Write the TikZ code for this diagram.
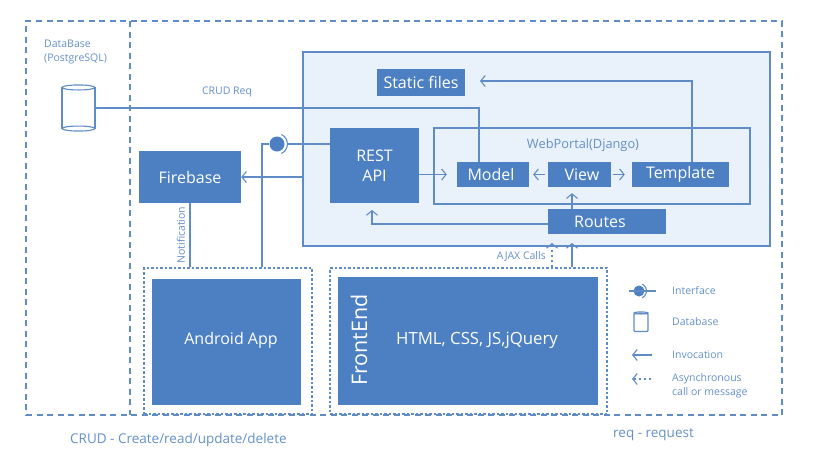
\documentclass[tikz,border=0pt]{standalone}
\usepackage{fontspec}
\setmainfont{Open Sans}
\usetikzlibrary{arrows.meta,shapes.geometric}

\definecolor{boxblue}{HTML}{4C80C2}
\definecolor{lineblue}{HTML}{5F8CC6}
\definecolor{textblue}{HTML}{6490C8}
\definecolor{paleblue}{HTML}{E9F1FB}

\tikzset{
	bluebox/.style={fill=boxblue,text=white,inner sep=0pt,align=center,font=\fontsize{16}{20}\selectfont},
	conn/.style={draw=lineblue,line width=1.1pt},
	invoke/.style={conn,-{Straight Barb[length=4.5pt,width=11pt,line width=1.1pt]}},
	asyncarrow/.style={invoke,dash pattern=on 2.5pt off 2.5pt},
	outerline/.style={draw=lineblue,line width=1.1pt,dash pattern=on 6pt off 4.5pt},
	dotbox/.style={draw=lineblue,line width=1.1pt,dash pattern=on 2.5pt off 2pt,inner sep=0pt},
	note/.style={text=textblue,inner sep=0pt,align=left,font=\fontsize{10.5}{13.5}\selectfont},
	bottomnote/.style={note,font=\fontsize{13.5}{15}\selectfont}
}

\begin{document}
\begin{tikzpicture}[x=1pt,y=-1pt]
	\useasboundingbox (0,0) rectangle (819,467);

	% Outer frame and divider
	\node[outerline,inner sep=0pt,minimum width=756pt,minimum height=394pt] (frame) at (404,218) {};
	\coordinate (divtop) at (130,21);
	\coordinate (divbottom) at (130,415);
	\draw[outerline] (divtop) -- (divbottom);

	% Server side
	\node[fill=paleblue,draw=lineblue,line width=1.1pt,minimum width=467pt,minimum height=194pt] (server) at (536.5,149) {};
	\node[draw=lineblue,line width=1.1pt,minimum width=316pt,minimum height=76pt] (portal) at (592,166) {};
	\node[note,font=\fontsize{12.8}{15}\selectfont] (portaltext) at (583,145) {WebPortal(Django)};

	\node[bluebox,minimum width=88pt,minimum height=27pt] (static) at (421,82.5) {Static files};
	\node[bluebox,minimum width=89pt,minimum height=75pt] (rest) at (374.5,165.5) {REST\\API\hspace{2pt}};
	\node[bluebox,minimum width=72pt,minimum height=25pt] (model) at (493,174.5) {Model\hspace{4pt}};
	\node[bluebox,minimum width=63pt,minimum height=25pt] (view) at (579.5,174.5) {\hspace{5pt}View};
	\node[bluebox,minimum width=97pt,minimum height=25pt] (template) at (680.5,174.5) {Template};
	\node[bluebox,minimum width=118pt,minimum height=25pt] (routes) at (607,221.5) {Routes\hspace{14pt}};
	\node[bluebox,minimum width=102pt,minimum height=52pt] (firebase) at (190,177) {Firebase};

	% Clients
	\node[dotbox,minimum width=168pt,minimum height=146pt] (androidgroup) at (228,341) {};
	\node[bluebox,minimum width=149pt,minimum height=126pt] (android) at (226.5,342) {\hspace{9pt}\raisebox{7pt}{Android App}};
	\node[dotbox,minimum width=277pt,minimum height=146pt] (frontgroup) at (468.5,341) {};
	\node[bluebox,font=\fontsize{16.8}{20}\selectfont,minimum width=260pt,minimum height=128pt] (front) at (468,341) {\hspace{18pt}\raisebox{5pt}{HTML, CSS, JS,jQuery}};
	\node[text=white,rotate=90,inner sep=0pt,font=\fontsize{21.5}{24}\selectfont] (fronttitle) at (359,340) {FrontEnd};

	% Database
	\node[draw=lineblue,fill=white,line width=1.1pt,minimum width=33pt,minimum height=40pt] (dbase) at (78.5,108) {};
	\draw[conn,fill=white] (dbase.north) ellipse[x radius=16.5pt,y radius=2.5pt];
	\draw[conn,fill=white] (dbase.south) ellipse[x radius=16.5pt,y radius=2.5pt];
	\node[note,anchor=north west] (dbasetext) at (44,40) {DataBase\\(PostgreSQL)};

	% Connectors
	\coordinate (modelup) at (479,162);
	\draw[conn] (dbase) -- (dbase -| modelup) -- (modelup);
	\node[note] (crudtext) at (227,92) {CRUD Req};

	\node[circle,fill=boxblue,minimum size=15pt,inner sep=0pt] (iface) at (277,144) {};
	\draw[conn] (iface.center) ++(-65:10.5pt) arc[start angle=-65,end angle=65,radius=10.5pt];
	\coordinate (ifacepost) at (262,144);
	\coordinate (ifaceplug) at (287.5,144);
	\draw[conn] (ifacepost |- androidgroup.north) -- (ifacepost) -- (iface);
	\draw[conn] (ifaceplug) -- (rest.west |- ifaceplug);

	\draw[invoke] (server.west |- firebase) -- (firebase);
	\draw[conn] (firebase.south) -- (firebase.south |- androidgroup.north);
	\node[note,rotate=90] (notiftext) at (181,235) {Notification};

	\draw[invoke,shorten >=10pt] (rest.east |- model) -- (model);
	\draw[invoke,shorten >=4pt,shorten <=3pt] (view) -- (model);
	\draw[invoke,shorten >=7pt,shorten <=2pt] (view) -- (template);
	\coordinate (routesup) at (572,209);
	\draw[invoke,shorten >=6pt] (routesup) -- (view.south -| routesup);
	\coordinate (templateup) at (692,162);
	\coordinate (templatetop) at (692,81);
	\coordinate (statictip) at (480,81);
	\draw[invoke] (templateup) -- (templatetop) -- (statictip);
	\coordinate (routesleft) at (372,224);
	\coordinate (restbelow) at (372,210);
	\draw[invoke] (routesleft -| routes.west) -- (routesleft) -- (restbelow);

	\coordinate (ajaxtip) at (552,243);
	\coordinate (calltip) at (572,243);
	\draw[asyncarrow] (ajaxtip |- frontgroup.north) -- (ajaxtip);
	\draw[invoke] (calltip |- frontgroup.north) -- (calltip);
	\node[note,anchor=east] (ajaxtext) at (546,256) {AJAX Calls};

	% Legend
	\node[circle,fill=boxblue,minimum size=11pt,inner sep=0pt] (legiface) at (639,291) {};
	\draw[conn] (legiface.center) ++(-65:7.5pt) arc[start angle=-65,end angle=65,radius=7.5pt];
	\coordinate (legifacel) at (629,291);
	\coordinate (legifacer) at (656,291);
	\draw[conn] (legifacel) -- (legifacer);
	\node[draw=lineblue,line width=1.1pt,rounded corners=1pt,minimum width=14pt,minimum height=18pt] (legdb) at (641,322.5) {};
	\draw[conn] (legdb.north) ellipse[x radius=7pt,y radius=1pt];
	\coordinate (leginvs) at (652,355);
	\coordinate (leginvt) at (632,355);
	\draw[invoke] (leginvs) -- (leginvt);
	\coordinate (legasyncs) at (651,379);
	\coordinate (legasynct) at (632,379);
	\draw[asyncarrow] (legasyncs) -- (legasynct);
	\node[note,anchor=west] (leg1) at (672,290.5) {Interface};
	\node[note,anchor=west] (leg2) at (672,322) {Database};
	\node[note,anchor=west] (leg3) at (672,355) {Invocation};
	\node[note,anchor=west] (leg4) at (672,386) {Asynchronous\\call or message};

	% Abbreviations
	\node[bottomnote,anchor=west] (abbr1) at (70,440) {CRUD - Create/read/update/delete};
	\node[bottomnote,anchor=west] (abbr2) at (613,435) {req - request};
\end{tikzpicture}
\end{document}
